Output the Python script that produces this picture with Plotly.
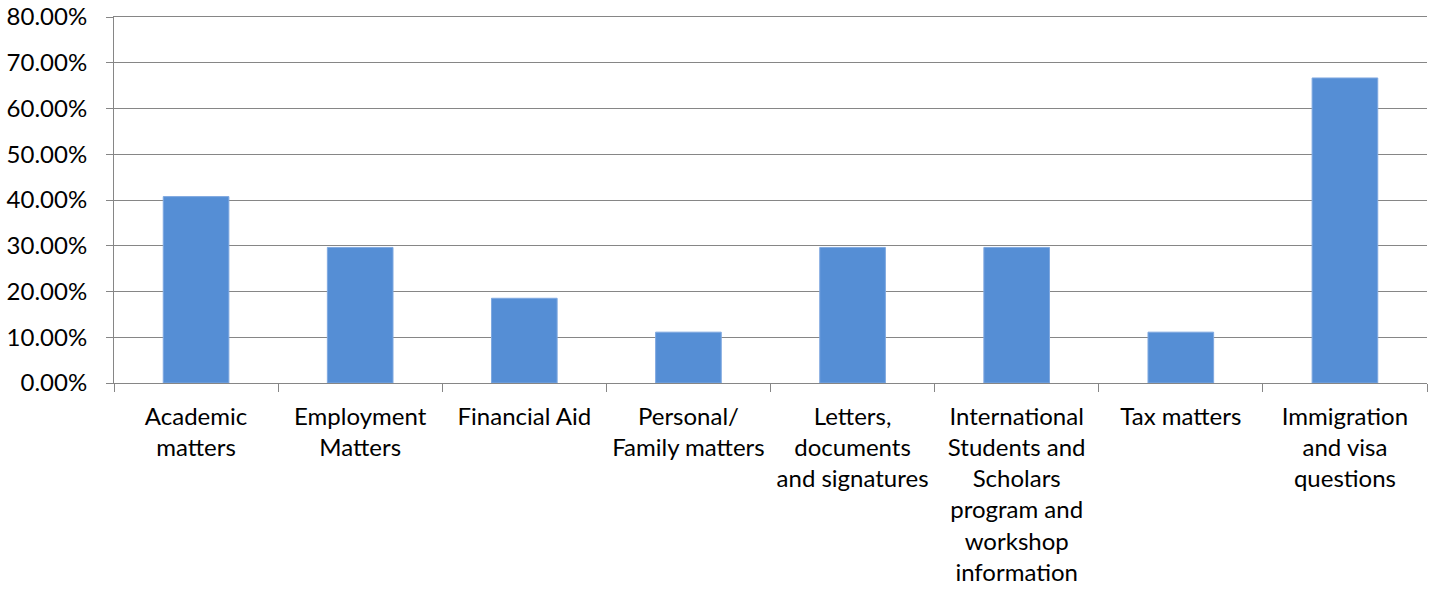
import plotly.graph_objects as go

categories = [
    "Academic<br>matters",
    "Employment<br>Matters",
    "Financial Aid",
    "Personal/<br>Family matters",
    "Letters,<br>documents<br>and signatures",
    "International<br>Students and<br>Scholars<br>program and<br>workshop<br>information",
    "Tax matters",
    "Immigration<br>and visa<br>questions",
]
shares = [0.4074, 0.2963, 0.1852, 0.1111, 0.2963, 0.2963, 0.1111, 0.6667]

axis_grey = "#868686"
font_name = "Lato, Open Sans, sans-serif"

fig = go.Figure(go.Bar(
    x=categories, y=shares,
    marker=dict(color="#558ed5", line=dict(color="#7fa8e0", width=1)),
))

fig.update_layout(
    width=1436, height=594,
    margin=dict(l=114, r=9, t=17, b=211),
    plot_bgcolor="white", paper_bgcolor="white",
    bargap=0.6, showlegend=False,
    font=dict(family=font_name, size=24, color="black"),
)
# mirror=True gives the top (80%) gridline, which plotly skips at the range edge
fig.update_xaxes(
    showline=True, linecolor=axis_grey, linewidth=1, mirror=True,
    ticks="outside", tickson="boundaries", ticklen=8, tickcolor=axis_grey,
    tickangle=0, showgrid=False, ticklabelstandoff=12, automargin=False,
)
fig.update_yaxes(
    range=[0, 0.8], dtick=0.1, tickformat=".2%",
    showline=True, linecolor=axis_grey, linewidth=1,
    showgrid=True, gridcolor=axis_grey, gridwidth=1, zeroline=False,
    ticks="outside", ticklen=7, tickcolor=axis_grey, ticklabelstandoff=14,
    automargin=False,
)

# drop the browser's default 8px body margin so the chart sits at the corner
fig.write_html("out.html", config={"displayModeBar": False},
               post_script="document.body.style.margin = '0';")
